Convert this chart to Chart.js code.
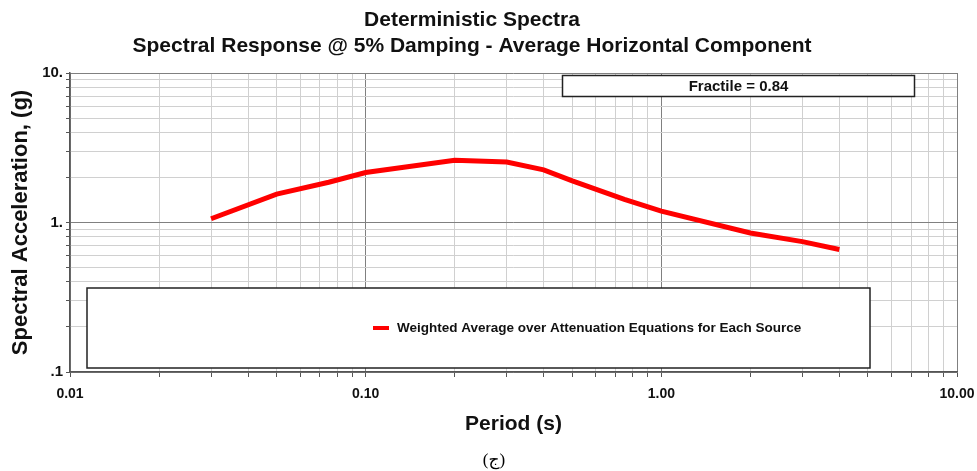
<!DOCTYPE html>
<html>
<head>
<meta charset="utf-8">
<script src="https://cdn.jsdelivr.net/npm/chart.js@4/dist/chart.umd.min.js"></script>
<style>
  html, body { margin: 0; padding: 0; background: #ffffff; }
  #wrap { width: 977px; height: 471px; }
</style>
</head>
<body>
<div id="wrap"><canvas id="c" width="977" height="471"></canvas></div>
<script>
// ---- data ----
const titleLines = ['Deterministic Spectra', 'Spectral Response @ 5% Damping - Average Horizontal Component'];
const seriesLabel = 'Weighted Average over Attenuation Equations for Each Source';
const periods = [0.03, 0.05, 0.075, 0.1, 0.2, 0.3, 0.4, 0.5, 0.75, 1, 2, 3, 4];
const spectralAccel = [1.06, 1.55, 1.86, 2.16, 2.61, 2.54, 2.25, 1.90, 1.43, 1.19, 0.85, 0.745, 0.66];
const xTickValues = [0.01, 0.1, 1, 10];
const xTickLabels = ['0.01', '0.10', '1.00', '10.00'];
const yTickValues = [0.1, 1, 10];
const yTickLabels = ['.1', '1.', '10.'];
const minorMultipliers = [1, 2, 3, 4, 5, 6, 7, 8, 9];
const fractileText = 'Fractile = 0.84';
const captionText = '(ج)';

// ---- helpers ----
function gridValues(decades) {
  const out = [];
  for (let i = 0; i < decades.length - 1; i++) {
    for (const m of minorMultipliers) out.push(Number((decades[i] * m).toPrecision(6)));
  }
  out.push(decades[decades.length - 1]);
  return out;
}
function isDecade(v, decades) {
  return decades.some(d => Math.abs(d - v) / d < 1e-6);
}
function labelFor(v, values, labels) {
  const i = values.findIndex(d => Math.abs(d - v) / d < 1e-6);
  return i >= 0 ? labels[i] : '';
}
const FONT = '"Liberation Sans", Arial, Helvetica, sans-serif';

const overlayPlugin = {
  id: 'overlay',
  afterDraw(chart, args, opts) {
    const ctx = chart.ctx;
    const ds = chart.data.datasets[0];
    ctx.save();
    // title
    ctx.fillStyle = '#111111';
    ctx.font = 'bold 21px ' + FONT;
    ctx.textAlign = 'center';
    ctx.textBaseline = 'middle';
    titleLines.forEach((t, i) => ctx.fillText(t, opts.title.x, opts.title.y + i * opts.title.lineGap));
    // legend box
    const lb = opts.legendBox;
    ctx.fillStyle = '#ffffff';
    ctx.fillRect(lb.left, lb.top, lb.right - lb.left, lb.bottom - lb.top);
    ctx.strokeStyle = '#222222';
    ctx.lineWidth = 1.5;
    ctx.strokeRect(lb.left, lb.top, lb.right - lb.left, lb.bottom - lb.top);
    ctx.strokeStyle = ds.borderColor;
    ctx.lineWidth = 4;
    ctx.beginPath();
    ctx.moveTo(lb.lineX0, lb.textY);
    ctx.lineTo(lb.lineX1, lb.textY);
    ctx.stroke();
    ctx.fillStyle = '#111111';
    ctx.font = 'bold 13.5px ' + FONT;
    ctx.textAlign = 'left';
    ctx.fillText(ds.label, lb.textX, lb.textY);
    // fractile box
    const fb = opts.fractileBox;
    ctx.fillStyle = '#ffffff';
    ctx.fillRect(fb.left, fb.top, fb.right - fb.left, fb.bottom - fb.top);
    ctx.strokeStyle = '#222222';
    ctx.lineWidth = 1.5;
    ctx.strokeRect(fb.left, fb.top, fb.right - fb.left, fb.bottom - fb.top);
    ctx.fillStyle = '#111111';
    ctx.font = 'bold 15px ' + FONT;
    ctx.textAlign = 'center';
    ctx.fillText(fractileText, (fb.left + fb.right) / 2, (fb.top + fb.bottom) / 2 + 1);
    // caption
    ctx.font = '17px "Liberation Serif", "DejaVu Serif", "DejaVu Sans", serif';
    ctx.fillStyle = '#000000';
    ctx.fillText(captionText, opts.caption.x, opts.caption.y);
    ctx.restore();
  }
};

const xGrid = gridValues(xTickValues);
const yGrid = gridValues(yTickValues);

new Chart(document.getElementById('c'), {
  type: 'line',
  data: {
    datasets: [{
      label: seriesLabel,
      data: periods.map((p, i) => ({ x: p, y: spectralAccel[i] })),
      borderColor: '#ff0000',
      borderWidth: 5,
      pointRadius: 0,
      tension: 0,
      fill: false
    }]
  },
  options: {
    responsive: false,
    animation: false,
    devicePixelRatio: 1,
    layout: { padding: { top: 73, right: 20, bottom: 0, left: 0 } },
    plugins: {
      legend: { display: false },
      tooltip: { enabled: false },
      title: { display: false },
      overlay: {
        title: { x: 472, y: 20, lineGap: 26 },
        legendBox: { left: 87, top: 288, right: 870, bottom: 368, lineX0: 373, lineX1: 389, textX: 397, textY: 328 },
        fractileBox: { left: 562.5, top: 75.5, right: 914.5, bottom: 96.5 },
        caption: { x: 494, y: 461 }
      }
    },
    scales: {
      x: {
        type: 'logarithmic',
        position: 'bottom',
        min: 0.01,
        max: 10,
        afterBuildTicks: (s) => { s.ticks = xGrid.map(v => ({ value: v })); },
        afterFit: (s) => { s.height = 99; s.paddingLeft = 0; s.paddingRight = 0; },
        ticks: {
          autoSkip: false,
          maxRotation: 0,
          padding: 9,
          color: '#111111',
          font: { family: FONT, size: 14, weight: 'bold' },
          callback: (v) => labelFor(v, xTickValues, xTickLabels)
        },
        grid: {
          color: (c) => isDecade(c.tick.value, xTickValues) ? '#808080' : '#d0d0d0',
          lineWidth: 1,
          tickLength: 5,
          tickColor: '#555555'
        },
        border: { display: true, color: '#555555', width: 1.5 },
        title: {
          display: true,
          text: 'Period (s)',
          color: '#111111',
          font: { family: FONT, size: 21, weight: 'bold', lineHeight: 1.2 },
          padding: { top: 0, bottom: 34 }
        }
      },
      y: {
        type: 'logarithmic',
        position: 'left',
        min: 0.1,
        max: 10,
        afterBuildTicks: (s) => { s.ticks = yGrid.map(v => ({ value: v })); },
        afterFit: (s) => { s.width = 70; s.paddingTop = 0; s.paddingBottom = 0; },
        ticks: {
          autoSkip: false,
          padding: 3,
          color: '#111111',
          font: { family: FONT, size: 15, weight: 'bold' },
          callback: (v) => labelFor(v, yTickValues, yTickLabels)
        },
        grid: {
          color: (c) => isDecade(c.tick.value, yTickValues) ? '#808080' : '#d0d0d0',
          lineWidth: 1,
          tickLength: 4,
          tickColor: '#555555'
        },
        border: { display: true, color: '#555555', width: 1.5 },
        title: {
          display: true,
          text: 'Spectral Acceleration, (g)',
          color: '#111111',
          font: { family: FONT, size: 22, weight: 'bold', lineHeight: 1.2 },
          padding: { top: 8, bottom: 0 }
        }
      }
    }
  },
  plugins: [overlayPlugin]
});
</script>
</body>
</html>
